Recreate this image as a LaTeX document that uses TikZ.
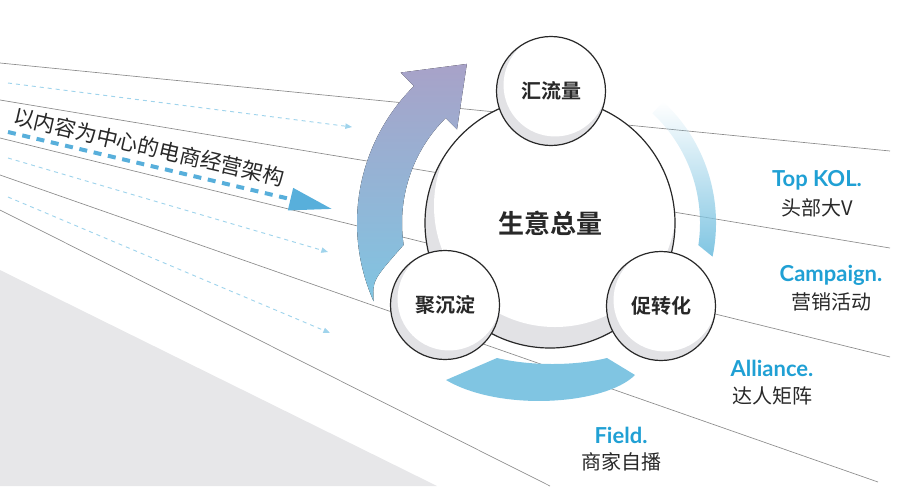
\documentclass[tikz,border=0pt]{standalone}
\usepackage{fontspec}
\usetikzlibrary{arrows.meta,fadings}
\newfontfamily\cjk{Noto Sans CJK SC}[BoldFont={Noto Sans CJK SC Bold}]
\newfontfamily\enfont{Lato}
\definecolor{lineGray}{RGB}{140,140,140}
\definecolor{dashBlue}{RGB}{160,212,236}
\definecolor{mainBlue}{RGB}{88,175,219}
\definecolor{arrowBlue}{RGB}{128,197,226}
\definecolor{arrowPurple}{RGB}{168,162,200}
\definecolor{shadowGray}{RGB}{226,226,229}
\definecolor{areaGray}{RGB}{231,231,233}
\definecolor{labelBlue}{RGB}{32,160,212}
\definecolor{textDark}{RGB}{40,40,40}

\begin{document}
\begin{tikzpicture}
  [x=0.75pt,y=-0.75pt,
   bgline/.style={lineGray,line width=0.5pt},
   thindash/.style={dashBlue,line width=0.7pt,dash pattern=on 3pt off 3pt,
     -{Triangle[length=5pt,width=4pt]}},
   hub/.style={circle,draw=textDark,line width=0.9pt,fill=shadowGray,
     inner sep=0pt,minimum size=81.75pt,text=textDark,
     font=\cjk\bfseries\fontsize{15}{18}\selectfont,
     path picture={\fill[white] (path picture bounding box.center) ++(3pt,4.5pt) circle (38.6pt);}},
   en/.style={font=\enfont\bfseries\fontsize{16.5}{20}\selectfont,text=labelBlue},
   cn/.style={font=\cjk\fontsize{15}{18}\selectfont,text=textDark}]
  \useasboundingbox (0,0) rectangle (913,486);

  % background
  \fill[areaGray] (0,270) -- (437,486) -- (0,486) -- cycle;
  \foreach \ya/\xb/\yb in {63/890/151,100/890/248,138/890/357,175/878/482,210/550/486}
    \draw[bgline] (0,\ya) -- (\xb,\yb);
  \foreach \ya/\xb/\yb in {83/352/127,158/328/252,197/330/333}
    \draw[thindash] (8,\ya) -- (\xb,\yb);

  \coordinate (ds) at (8,132);
  \coordinate (de) at (332,209);
  \draw[mainBlue,line width=3pt,dash pattern=on 6pt off 5pt,
        -{Triangle[length=32pt,width=16.5pt]}] (ds) -- (de);
  \node[font=\cjk\fontsize{16}{19}\selectfont,text=textDark,rotate=-12.9] (title)
    at (149,147) {以内容为中心的电商经营架构};

  % cycle arrows
  \begin{scope}[shift={(550,223)}]
    \fill[top color=arrowPurple,bottom color=arrowBlue]
      (-117.6:179.5) -- (-134.8:212) -- (-134.8:193)
      arc[start angle=-134.8,end angle=-203.9,radius=193]
      .. controls (-197.9:186.6) .. (-188.5:148)
      arc[start angle=-188.5,end angle=-134.8,radius=148]
      -- (-134.8:132) -- cycle;
    \fill[arrowBlue,path fading=north]
      (-47:166) arc[start angle=-47,end angle=11.7,radius=166]
      -- (8.5:150) arc[start angle=8.5,end angle=-47,radius=150] -- cycle;
  \end{scope}
  \fill[arrowBlue] (446,380) -- (497,358) .. controls (530,366) and (575,366) .. (607,358)
    -- (635,375) .. controls (605,405) and (500,412) .. (446,380) -- cycle;

  % circles
  \node[circle,draw=textDark,line width=0.9pt,fill=shadowGray,inner sep=0pt,
        minimum size=187.5pt,text=textDark,font=\cjk\bfseries\fontsize{19.5}{23}\selectfont,
        path picture={\fill[white] (path picture bounding box.center) ++(3.75pt,12.75pt) circle (90.75pt);}]
        (core) at (550,223) {生意总量};
  \node[hub] (flow) at (551,91) {汇流量};
  \node[hub] (settle) at (445,305) {聚沉淀};
  \node[hub] (convert) at (661,306) {促转化};

  % labels
  \node[en] (kol) at (817,180) {Top KOL.};
  \node[cn] (kolcn) at (817,208) {头部大V};
  \node[en] (camp) at (831,275) {Campaign.};
  \node[cn] (campcn) at (831,302) {营销活动};
  \node[en] (ally) at (772,368) {Alliance.};
  \node[cn] (allycn) at (772,396) {达人矩阵};
  \node[en] (field) at (621,435) {Field.};
  \node[cn] (fieldcn) at (621,462) {商家自播};
\end{tikzpicture}
\end{document}
